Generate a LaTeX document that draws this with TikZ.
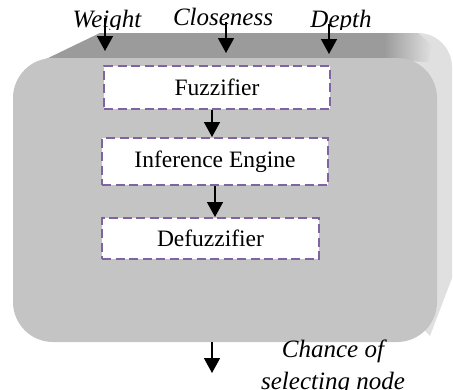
\documentclass[tikz,border=0pt]{standalone}
\usepackage{fontspec}
\setmainfont{Liberation Serif}
\usetikzlibrary{arrows.meta}
\definecolor{frontgrey}{HTML}{C4C4C4}
\definecolor{topgrey}{HTML}{9B9B9B}
\definecolor{sidegrey}{HTML}{E0E0E0}
\definecolor{dashpurple}{HTML}{8064A2}

\begin{document}
\begin{tikzpicture}[x=1pt, y=-1pt]
    \tikzset{%
      stage/.style={draw=dashpurple, fill=white, line width=2pt,
        dash pattern=on 9pt off 4.5pt, inner sep=0pt,
        font=\fontsize{23.5}{26}\selectfont},
      lbl/.style={anchor=base, inner sep=0pt,
        font=\fontsize{25}{32}\selectfont\itshape},
      flow/.style={line width=1.5pt, -{Triangle[length=15pt, width=16pt]}},
    }
    \useasboundingbox (0,0) rectangle (453,389);

    % back of the block
    \fill[sidegrey] (40,62) -- (100,33) -- (418,33)
      arc[start angle=-90, end angle=0, radius=34] -- (452,278)
      -- (430,336) -- (300,200) -- cycle;
    \fill[topgrey] (40,62) -- (100,33) -- (385,33) -- (385,60) -- (40,62) -- cycle;
    \shade[left color=topgrey, right color=sidegrey]
      (384,33) -- (418,33) -- (432,45) -- (428,62) -- (384,60) -- cycle;
    % front face
    \fill[frontgrey, rounded corners=40pt] (13,58) rectangle (437,342);

    % inputs
    \begin{scope}
      \clip (0,0) rectangle (453,29);
      \node[lbl] (weight) at (107,27) {Weight};
      \node[lbl] (closeness) at (223,25) {Closeness};
      \node[lbl] (depth) at (341,27) {Depth};
    \end{scope}
    \coordinate (wTop) at (105,18);
    \coordinate (wIn) at (105,51);
    \coordinate (cTop) at (226,22);
    \coordinate (cIn) at (226,53);
    \coordinate (dTop) at (329,24);
    \coordinate (dIn) at (329,54);
    \draw[flow] (wTop) -- (wIn);
    \draw[flow] (cTop) -- (cIn);
    \draw[flow] (dTop) -- (dIn);

    % fuzzy stages
    \node[stage, minimum width=226pt, minimum height=43pt] (fuzz) at (217,87.5) {\raisebox{-3pt}{Fuzzifier}};
    \node[stage, minimum width=226pt, minimum height=47pt] (infer) at (215,161.5) {Inference Engine};
    \node[stage, minimum width=217pt, minimum height=41pt] (defuzz) at (210.5,238.5) {\raisebox{-2pt}{Defuzzifier}};
    \draw[flow] (fuzz.south -| 212,0) -- (infer.north -| 212,0);
    \draw[flow] (infer.south) -- (defuzz.north -| infer.south);

    % output
    \coordinate (outTop) at (212,342);
    \coordinate (outEnd) at (212,373);
    \draw[flow] (outTop) -- (outEnd);
    \node[lbl, align=center] (chance) at (333,389) {Chance of\\selecting node};
\end{tikzpicture}
\end{document}
